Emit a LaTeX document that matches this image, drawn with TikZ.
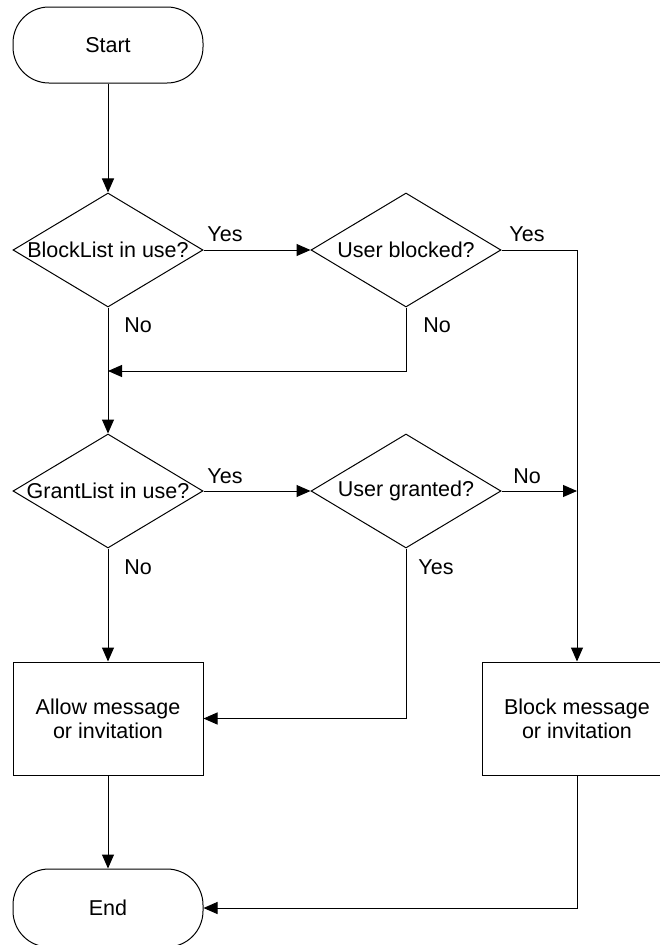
\documentclass[tikz,border=0pt]{standalone}
\usepackage{fontspec}
\setmainfont{Liberation Sans}
\usetikzlibrary{shapes.geometric,arrows.meta}
\begin{document}
\begin{tikzpicture}[x=1pt,y=-1pt,
  font=\fontsize{21.5}{24}\selectfont,
  line width=1pt,
  term/.style={draw, rectangle, rounded corners=36pt, minimum width=190pt, minimum height=76pt, inner sep=0pt},
  dec/.style={draw, diamond, minimum width=190pt, minimum height=114pt, inner sep=0pt},
  proc/.style={draw, rectangle, minimum width=190pt, minimum height=113pt, align=center, inner sep=0pt},
  arr/.style={-{Triangle[length=14pt,width=12pt]}},
  lbl/.style={inner sep=0pt}]
\clip (0,0) rectangle (660,945);
\fill[white] (0,0) rectangle (660,945);
% nodes
\node[term] (start) at (108,45) {Start};
\node[dec, label={center:BlockList in use?}] (d1) at (108,250) {};
\node[dec, label={center:User blocked?}] (d2) at (406,250) {};
\node[dec, label={center:GrantList in use?}] (d3) at (108,491) {};
\node[dec, label={center:User granted?}] (d4) at (406,491) {};
\node[proc] (allow) at (108,718.5) {Allow message\\or invitation};
\node[proc] (block) at (577,718.5) {Block message\\or invitation};
\node[term, minimum height=78pt] (end) at (108,908) {End};
% junctions
\coordinate (j1) at (108,371);
\coordinate (j2) at (577,491);
% labels
\node[lbl] (y1) at (225,234) {Yes};
\node[lbl] (y2) at (527,234) {Yes};
\node[lbl] (n1) at (138,325) {No};
\node[lbl] (n2) at (437,325) {No};
\node[lbl] (y3) at (225,476) {Yes};
\node[lbl] (n4) at (527,476) {No};
\node[lbl] (n3) at (138,567) {No};
\node[lbl] (y4) at (436,567) {Yes};
% connectors
\draw[arr] (start) -- (d1);
\draw[arr] (d1.east) -- (d2.west);
\draw[arr] (d2.east) -| (block.north);
\draw[arr] (d2.south) |- (j1);
\draw[arr] (d1.south) -- (d3.north);
\draw[arr] (d3.east) -- (d4.west);
\draw[arr] (d4.east) -- (j2);
\draw[arr] (d3.south) -- (allow.north);
\draw[arr] (d4.south) |- (allow.east);
\draw[arr] (allow.south) -- (end.north);
\draw[arr] (block.south) |- (end.east);
\end{tikzpicture}
\end{document}
